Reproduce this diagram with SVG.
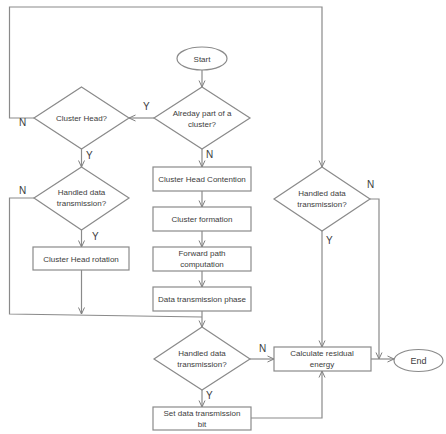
<svg xmlns="http://www.w3.org/2000/svg" width="446" height="434" viewBox="0 0 446 434">
<defs>
<marker id="arr" viewBox="0 0 8 8" refX="7.5" refY="4" markerWidth="8" markerHeight="8" markerUnits="userSpaceOnUse" orient="auto">
<path d="M1,1 L7.5,4 L1,7" fill="none" stroke="#7f7f7f" stroke-width="1"/>
</marker>
<style>
.s{fill:#fff;stroke:#8a8a8a;stroke-width:1.2}
.c{fill:none;stroke:#8a8a8a;stroke-width:1.2}
.t{font-family:"Liberation Sans",Arial,sans-serif;font-size:8px;fill:#3c3c3c;text-anchor:middle}
.l{font-family:"Liberation Sans",Arial,sans-serif;font-size:10px;fill:#3c3c3c}
</style>
</defs>
<rect width="446" height="434" fill="#fff"/>
<g id="connectors">
<path class="c" d="M202,70 V87" marker-end="url(#arr)"/>
<path class="c" d="M154,118 H129" marker-end="url(#arr)"/>
<path class="c" d="M34,118 H9.5 V7 H322 V167" marker-end="url(#arr)"/>
<path class="c" d="M81.5,149 V167" marker-end="url(#arr)"/>
<path class="c" d="M81.5,230 V247" marker-end="url(#arr)"/>
<path class="c" d="M34,198 H9.5 V314 L202,317"/>
<path class="c" d="M81.5,270 V314" marker-end="url(#arr)"/>
<path class="c" d="M202,149 V167" marker-end="url(#arr)"/>
<path class="c" d="M202,191 V207" marker-end="url(#arr)"/>
<path class="c" d="M202,231 V247" marker-end="url(#arr)"/>
<path class="c" d="M202,271 V287" marker-end="url(#arr)"/>
<path class="c" d="M202,311 V327" marker-end="url(#arr)"/>
<path class="c" d="M202,390 V407" marker-end="url(#arr)"/>
<path class="c" d="M250,359 H274" marker-end="url(#arr)"/>
<path class="c" d="M251,418 H322 V371" marker-end="url(#arr)"/>
<path class="c" d="M322,231 V347" marker-end="url(#arr)"/>
<path class="c" d="M370,199 H379 V359" marker-end="url(#arr)"/>
<path class="c" d="M371,359 H394" marker-end="url(#arr)"/>
<text class="l" x="143" y="110">Y</text>
<text class="l" x="19" y="126">N</text>
<text class="l" x="86" y="159">Y</text>
<text class="l" x="19" y="194">N</text>
<text class="l" x="92" y="240">Y</text>
<text class="l" x="206" y="158">N</text>
<text class="l" x="367" y="188">N</text>
<text class="l" x="326" y="244">Y</text>
<text class="l" x="259" y="352">N</text>
<text class="l" x="206" y="399">Y</text>
</g>
<g id="start">
<ellipse class="s" cx="202" cy="58.5" rx="25" ry="11.5"/>
<text class="t" x="202" y="61.5">Start</text>
</g>
<g id="already">
<polygon class="s" points="202,87 250,118 202,149 154,118"/>
<text class="t" x="202" y="116">Alreday part of a</text>
<text class="t" x="202" y="127">cluster?</text>
</g>
<g id="clusterhead">
<polygon class="s" points="81.5,87 129,118 81.5,149 34,118"/>
<text class="t" x="81.5" y="121">Cluster Head?</text>
</g>
<g id="handled-left">
<polygon class="s" points="81.5,167 129,198 81.5,230 34,198"/>
<text class="t" x="81.5" y="195">Handled data</text>
<text class="t" x="81.5" y="206">transmission?</text>
</g>
<g id="rotation">
<rect class="s" x="33" y="247" width="96" height="23"/>
<text class="t" x="81" y="261.5">Cluster Head rotation</text>
</g>
<g id="contention">
<rect class="s" x="153" y="167" width="98" height="24"/>
<text class="t" x="202" y="181.5">Cluster Head Contention</text>
</g>
<g id="formation">
<rect class="s" x="153" y="207" width="98" height="24"/>
<text class="t" x="202" y="221.5">Cluster formation</text>
</g>
<g id="forward">
<rect class="s" x="153" y="247" width="98" height="24"/>
<text class="t" x="202" y="255.5">Forward path</text>
<text class="t" x="202" y="266.5">computation</text>
</g>
<g id="phase">
<rect class="s" x="153" y="287" width="98" height="24"/>
<text class="t" x="202" y="301.5">Data transmission phase</text>
</g>
<g id="handled-mid">
<polygon class="s" points="202,327 250,359 202,390 154,359"/>
<text class="t" x="202" y="356">Handled data</text>
<text class="t" x="202" y="367">transmission?</text>
</g>
<g id="setbit">
<rect class="s" x="153" y="407" width="98" height="23"/>
<text class="t" x="202" y="415.5">Set data transmission</text>
<text class="t" x="202" y="426.5">bit</text>
</g>
<g id="handled-right">
<polygon class="s" points="322,167 370,199 322,231 274,199"/>
<text class="t" x="322" y="196">Handled data</text>
<text class="t" x="322" y="207">transmission?</text>
</g>
<g id="residual">
<rect class="s" x="274" y="347" width="97" height="24"/>
<text class="t" x="322" y="355.5">Calculate residual</text>
<text class="t" x="322" y="366.5">energy</text>
</g>
<g id="end">
<ellipse class="s" cx="418.5" cy="360.5" rx="24.5" ry="11"/>
<text class="t" x="418.5" y="364" style="font-size:9px">End</text>
</g>
</svg>
